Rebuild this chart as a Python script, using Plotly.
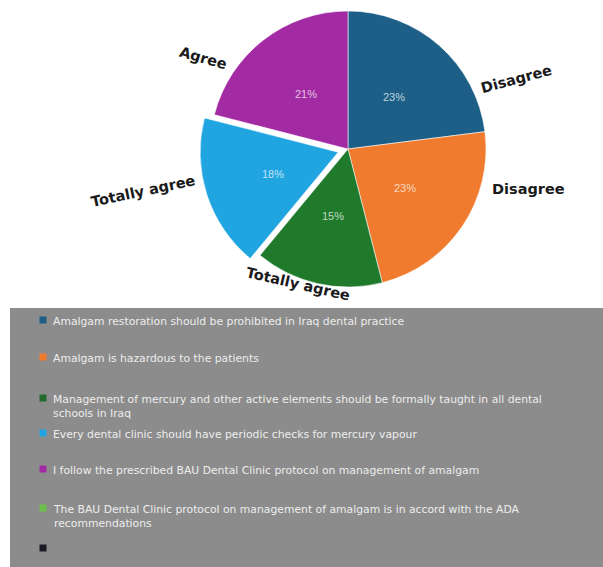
import math
import plotly.graph_objects as go

# Survey answers shown as pie slices (clockwise from 12 o'clock)
slice_labels = ["Disagree", "Disagree", "Totally agree", "Totally agree", "Agree"]
slice_values = [23, 23, 15, 18, 21]
slice_colors = ["#1d5f87", "#f07a2d", "#1f7a2c", "#21a5e1", "#a22ba4"]
slice_pull = [0, 0, 0, 0.075, 0]

# Statements listed in the key panel
statements = [
    "Amalgam restoration should be prohibited in Iraq dental practice",
    "Amalgam is hazardous to the patients",
    "Management of mercury and other active elements should be formally taught in all dental<br>schools in Iraq",
    "Every dental clinic should have periodic checks for mercury vapour",
    "I follow the prescribed BAU Dental Clinic protocol on management of amalgam",
    "The BAU Dental Clinic protocol on management of amalgam is in accord with the ADA<br>recommendations",
    "",
]
statement_colors = ["#1d5f87", "#f07a2d", "#1f6a2c", "#21a5e1", "#a22ba4", "#6cbf4c", "#1b1b24"]

W, H = 603, 567


def px(x):
    return x / W


def py(y):
    return 1 - y / H


# Pie placement (pixels): centre and visible radius
cx, cy, r = 348, 149, 138
half = min(r * (1 + max(slice_pull)), cy)

fig = go.Figure()
fig.add_trace(go.Pie(
    labels=[f"{l} {i}" for i, l in enumerate(slice_labels)],
    values=slice_values,
    sort=False,
    direction="clockwise",
    rotation=0,
    pull=slice_pull,
    marker=dict(colors=slice_colors, line=dict(color="rgba(255,255,255,0.55)", width=1)),
    textinfo="none",
    hoverinfo="skip",
    showlegend=False,
    domain=dict(x=[px(cx - half), px(cx + half)], y=[py(cy + half), py(cy - half)]),
))

annotations = []

# Percentage labels, placed halfway out along each slice's middle angle
total = sum(slice_values)
start = 0.0
for v, pull in zip(slice_values, slice_pull):
    mid = (start + v / 2) / total * 2 * math.pi
    start += v
    rad = r * (0.5 + pull)
    annotations.append(dict(
        x=px(cx + rad * math.sin(mid)), y=py(cy - rad * math.cos(mid)),
        xref="paper", yref="paper", text=f"{v}%", showarrow=False,
        xanchor="center", yanchor="middle",
        font=dict(family="Liberation Sans", size=11, color="rgba(255,255,255,0.72)"),
    ))

# Outside category labels around the pie: (x, y, angle)
label_places = [(516, 79, -15), (528, 189, 0), (298, 284, 13), (143, 191, -12), (203, 58, 16)]
for text, (x, y, ang) in zip(slice_labels, label_places):
    annotations.append(dict(
        x=px(x), y=py(y), xref="paper", yref="paper", text=f"<b>{text}</b>",
        showarrow=False, textangle=ang, xanchor="center", yanchor="middle",
        font=dict(family="DejaVu Sans", size=14.5, color="#1a1a1a"),
    ))

# Key panel rows (first-line centre in pixels)
row_y = [320, 357, 398, 433, 469, 508, 548]
shapes = [dict(type="rect", xref="paper", yref="paper", x0=px(10), x1=1, y0=0, y1=py(308),
               fillcolor="#8c8c8c", line=dict(width=0), layer="below")]
for text, col, y in zip(statements, statement_colors, row_y):
    shapes.append(dict(type="rect", xref="paper", yref="paper",
                       x0=px(39.5), x1=px(46.5), y0=py(y + 3.5), y1=py(y - 3.5),
                       fillcolor=col, line=dict(width=0)))
    if text:
        annotations.append(dict(
            x=px(51), y=py(y - 7), xref="paper", yref="paper", text=text,
            showarrow=False, xanchor="left", yanchor="top", align="left",
            font=dict(family="DejaVu Sans", size=10.8, color="#ececec"),
        ))

fig.update_layout(
    width=W, height=H,
    margin=dict(l=0, r=0, t=0, b=0),
    paper_bgcolor="white", plot_bgcolor="white",
    shapes=shapes, annotations=annotations,
)

fig.write_html("out.html")
